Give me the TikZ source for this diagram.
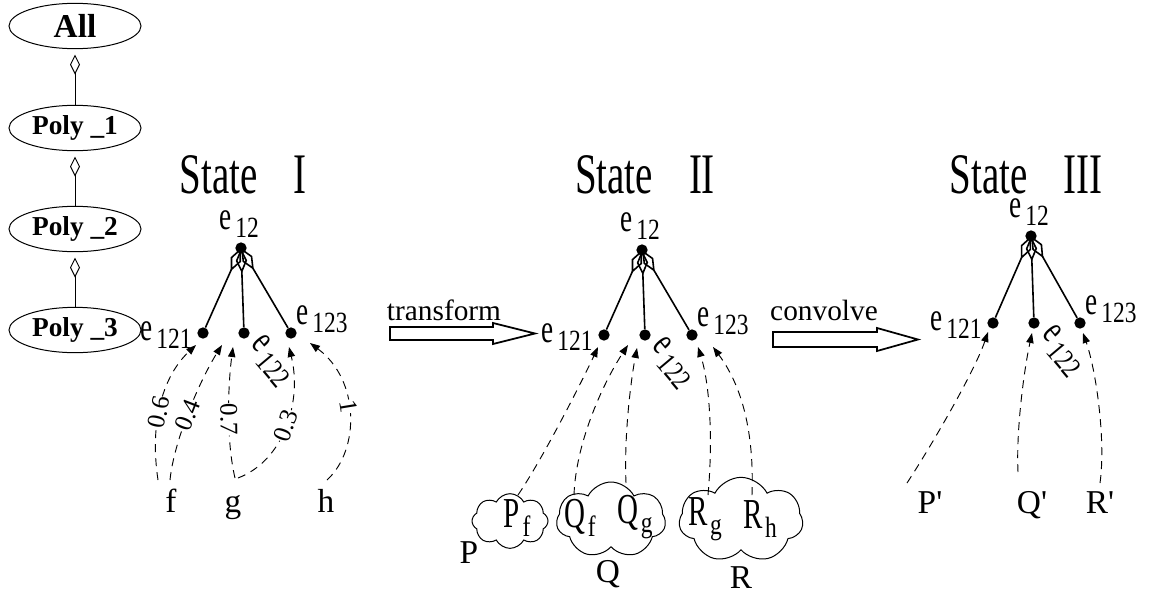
\documentclass[tikz,border=0pt]{standalone}
\usepackage{fontspec}
\setmainfont{Liberation Serif}
\newfontfamily\tallfont{Liberation Serif}[FakeStretch=0.68]
\newfontfamily\midfont{Liberation Serif}[FakeStretch=0.8]
\usetikzlibrary{arrows.meta,shapes.geometric,shapes.symbols,calc}

% element names: a tall "e" with a lowered index
\newcommand{\efont}{\tallfont\fontsize{30}{30}\selectfont}
\newcommand{\digfont}{\midfont\fontsize{22}{22}\selectfont}
\newcommand{\elab}[1]{{\efont e}\kern3pt\raisebox{-6pt}{\digfont #1}}
% polynomial parts inside the clouds
\newcommand{\cloudlab}[2]{{\tallfont\fontsize{32}{32}\selectfont #1}\kern2pt\raisebox{-7pt}{\digfont #2}}

\begin{document}
\begin{tikzpicture}[x=0.75pt,y=0.75pt,
  ell/.style={draw, ellipse, line width=0.75pt, minimum width=99pt, minimum height=34pt,
    inner sep=0pt, font=\bfseries\fontsize{20.5}{21}\selectfont},
  dotn/.style={circle, fill=black, inner sep=0pt, minimum size=8.5pt},
  treeedge/.style={line width=1.2pt, -{Diamond[open, length=19pt, width=8.5pt]}},
  chain/.style={line width=0.75pt, -{Diamond[open, length=15pt, width=7.5pt]}, shorten >=4pt},
  dep/.style={line width=0.7pt, dash pattern=on 6pt off 4.5pt, -{Triangle[length=7.5pt, width=5.5pt]}},
  wt/.style={sloped, fill=white, inner sep=0.3pt, font=\fontsize{19}{19}\selectfont},
  statelab/.style={anchor=base, inner sep=0pt, font=\tallfont\fontsize{43}{43}\selectfont},
  lbl/.style={inner sep=0pt},
  var/.style={anchor=base, inner sep=0pt, font=\fontsize{25}{25}\selectfont},
  verb/.style={anchor=base, inner sep=0pt, font=\fontsize{22}{22}\selectfont},
  bigarrow/.style={draw, line width=1.3pt, fill=white},
  puff/.style={draw, cloud, cloud puff arc=125, cloud ignores aspect,
    line width=0.75pt, inner sep=0pt}
]
\useasboundingbox (0,0) rectangle (1149,-593);

% ---- hierarchy of levels ----
\node[ell, font=\bfseries\fontsize{25}{25}\selectfont] (all) at (75,-26) {All};
\node[ell] (poly1) at (75,-128) {Poly \_1};
\node[ell] (poly2) at (75,-229) {Poly \_2};
\node[ell] (poly3) at (75,-330) {Poly \_3};
\draw[chain] (poly1) -- (all);
\draw[chain] (poly2) -- (poly1);
\draw[chain] (poly3) -- (poly2);

% ---- State I ----
\node[dotn] (p1) at (241,-248) {};
\node[dotn] (a1) at (203,-333) {};
\node[dotn] (b1) at (244,-333) {};
\node[dotn] (c1) at (291,-333) {};
\draw[treeedge] (a1) -- (p1.center);
\draw[treeedge] (b1) -- (p1.center);
\draw[treeedge] (c1) -- (p1.center);
\node[statelab] (s1) at (243,-193) {State\hspace{27pt}I};
\node[lbl] (p1l) at (239,-224) {\elab{12}};
\node[lbl] (a1l) at (166,-335) {\elab{121}};
\node[lbl] (c1l) at (322,-319) {\elab{123}};
\node[lbl, rotate=-50] (b1l) at (271,-361) {\elab{122}};

\node[var] (f) at (171,-512) {f};
\node[var] (g) at (233,-512) {g};
\node[var] (h) at (326,-512) {h};

\draw[dep] ($(f.base)+(-13,32)$) .. controls (149,-420) and (164,-375) .. ($(a1)+(-7,-12)$)
  node[wt, pos=0.42] {0.6};
\draw[dep] ($(f.base)+(-1,32)$) .. controls (174,-440) and (200,-380) .. ($(b1)+(-22,-12)$)
  node[wt, pos=0.47] {0.4};
\draw[dep] ($(g.base)+(2,34)$) .. controls (226,-440) and (228,-385) .. ($(b1)+(-11,-14)$)
  node[wt, pos=0.45] {0.7};
\draw[dep] ($(g.base)+(5,34)$) .. controls (285,-460) and (302,-400) .. ($(c1)+(-2,-14)$)
  node[wt, pos=0.5] {0.3};
\draw[dep] ($(h.base)+(1,32)$) .. controls (360,-450) and (360,-380) .. ($(c1)+(19,-10)$)
  node[wt, pos=0.55] {1};

% ---- transform ----
\node[verb] (tf) at (444,-320) {transform};
\coordinate (tr) at (390,-333.5);
\draw[bigarrow] (tr) ++(0,6.5) -- ++(103,0) -- ++(0,4) -- ++(42,-10.5) -- ++(-42,-10.5)
  -- ++(0,4) -- ++(-103,0) -- cycle;

% ---- State II ----
\node[dotn] (p2) at (642,-250) {};
\node[dotn] (a2) at (604,-335) {};
\node[dotn] (b2) at (645,-335) {};
\node[dotn] (c2) at (692,-335) {};
\draw[treeedge] (a2) -- (p2.center);
\draw[treeedge] (b2) -- (p2.center);
\draw[treeedge] (c2) -- (p2.center);
\node[statelab] (s2) at (645,-193) {State\hspace{27pt}II};
\node[lbl] (p2l) at (640,-226) {\elab{12}};
\node[lbl] (a2l) at (567,-337) {\elab{121}};
\node[lbl] (c2l) at (723,-321) {\elab{123}};
\node[lbl, rotate=-50] (b2l) at (672,-363) {\elab{122}};

\node[puff, cloud puffs=8, minimum width=57pt, minimum height=41pt] (pcl) at (510,-521) {};
\node[puff, cloud puffs=7, minimum width=82pt, minimum height=57pt] (qcl) at (611,-520) {};
\node[puff, cloud puffs=7, minimum width=93pt, minimum height=64pt] (rcl) at (741,-520) {};
\node[lbl] (pf) at (517,-518) {\cloudlab{P}{f}};
\node[lbl] (qf) at (580,-518) {\cloudlab{Q}{f}};
\node[lbl] (qg) at (635,-517) {\cloudlab{Q}{g}};
\node[lbl] (rg) at (705,-519) {\cloudlab{R}{g}};
\node[lbl] (rh) at (760,-519) {\cloudlab{R}{h}};
\node[var] (pn) at (469,-563) {P};
\node[var] (qn) at (608,-582) {Q};
\node[var] (rn) at (741,-588) {R};

\draw[dep] ($(pf)+(1,23)$) .. controls (545,-455) and (585,-375) .. ($(a2)+(-6,-12)$);
\draw[dep] ($(qf)+(-6,23)$) .. controls (576,-440) and (605,-380) .. ($(b2)+(-17,-10)$);
\draw[dep] ($(qg)+(-9,34)$) .. controls (624,-440) and (630,-385) .. ($(b2)+(-8,-13)$);
\draw[dep] ($(rg)+(3,24)$) .. controls (713,-440) and (710,-385) .. ($(c2)+(6,-12)$);
\draw[dep] ($(rh)+(-8,24)$) .. controls (754,-440) and (745,-390) .. ($(c2)+(21,-12)$);

% ---- convolve ----
\node[verb] (cv) at (824,-320) {convolve};
\coordinate (cr) at (773,-339.5);
\draw[bigarrow] (cr) ++(0,7.5) -- ++(104,0) -- ++(0,4) -- ++(41,-11.5) -- ++(-41,-11.5)
  -- ++(0,4) -- ++(-104,0) -- cycle;

% ---- State III ----
\node[dotn] (p3) at (1031,-236) {};
\node[dotn] (a3) at (993,-323) {};
\node[dotn] (b3) at (1034,-323) {};
\node[dotn] (c3) at (1080,-323) {};
\draw[treeedge] (a3) -- (p3.center);
\draw[treeedge] (b3) -- (p3.center);
\draw[treeedge] (c3) -- (p3.center);
\node[statelab] (s3) at (1026,-193) {State\hspace{27pt}III};
\node[lbl] (p3l) at (1029,-212) {\elab{12}};
\node[lbl] (a3l) at (956,-325) {\elab{121}};
\node[lbl] (c3l) at (1111,-309) {\elab{123}};
\node[lbl, rotate=-50] (b3l) at (1062,-351) {\elab{122}};

\node[var] (pp) at (930,-513) {P\textquotesingle};
\node[var] (qp) at (1032,-513) {Q\textquotesingle};
\node[var] (rp) at (1100,-513) {R\textquotesingle};

\draw[dep] ($(pp.base)+(-23,30)$) .. controls (935,-440) and (975,-370) .. ($(a3)+(-5,-9)$);
\draw[dep] ($(qp.base)+(-14,41)$) .. controls (1016,-430) and (1024,-370) .. ($(b3)+(-2,-10)$);
\draw[dep] ($(rp.base)+(0,30)$) .. controls (1106,-440) and (1096,-370) .. ($(c3)+(3,-10)$);
\end{tikzpicture}
\end{document}
